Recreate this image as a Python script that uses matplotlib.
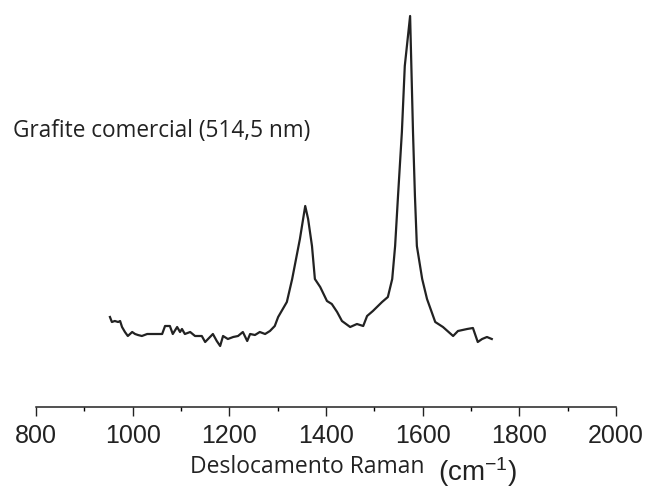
import matplotlib.pyplot as plt
from matplotlib.ticker import MultipleLocator

plt.rcParams['mathtext.fontset'] = 'custom'
plt.rcParams['mathtext.rm'] = 'Liberation Sans'
plt.rcParams['mathtext.it'] = 'Liberation Sans'

# Raman spectrum (arbitrary intensity)
shift = [953, 957, 963, 970, 974, 978, 984, 990, 999, 1005, 1011, 1019, 1030, 1061,
         1067, 1077, 1083, 1092, 1098, 1102, 1108, 1119, 1129, 1143, 1150, 1156, 1166,
         1174, 1181, 1187, 1197, 1208, 1218, 1228, 1237, 1243, 1253, 1263, 1274, 1284,
         1294, 1301, 1319, 1330, 1336, 1346, 1357, 1363, 1371, 1377, 1388, 1402, 1412,
         1423, 1433, 1450, 1464, 1477, 1485, 1497, 1516, 1528, 1537, 1543, 1549, 1557,
         1563, 1574, 1580, 1584, 1588, 1599, 1609, 1626, 1642, 1663, 1673, 1692, 1704,
         1714, 1723, 1733, 1743]
intensity = [90, 85, 86, 85, 86, 80, 75, 71, 75, 73, 72, 71, 73, 73,
             81, 81, 73, 80, 75, 78, 73, 75, 71, 71, 65, 68, 73,
             66, 61, 71, 68, 70, 71, 75, 66, 73, 72, 75, 73, 76,
             81, 90, 105, 128, 143, 168, 201, 188, 161, 128, 120, 106, 103,
             95, 86, 80, 83, 81, 91, 96, 105, 110, 128, 161, 211, 275,
             341, 391, 275, 211, 161, 128, 108, 85, 80, 71, 76, 78, 79,
             65, 68, 70, 68]

fig = plt.figure(figsize=(6.52, 4.89), dpi=100)
ax = fig.add_axes([36/652, 1-408/489, 580/652, 398/489])
ax.plot(shift, intensity, color='#222222', lw=1.6)

ax.set_xlim(800, 2000)
ax.set_ylim(0, 398)
ax.xaxis.set_major_locator(MultipleLocator(200))
ax.xaxis.set_minor_locator(MultipleLocator(100))
ax.tick_params(axis='x', which='major', length=6.5, width=1, pad=5,
               labelsize=18, colors='#222222')
ax.tick_params(axis='x', which='minor', length=3, width=1)
for lbl in ax.get_xticklabels():
    lbl.set_fontfamily('Liberation Sans')
ax.set_yticks([])
for s in ['left', 'right', 'top']:
    ax.spines[s].set_visible(False)
ax.spines['bottom'].set_linewidth(1.1)
ax.spines['bottom'].set_color('#222222')

fig.text(13/652, 1-137/489, 'Grafite comercial (514,5 nm)', family='Open Sans',
         fontsize=16.3, color='#222222', va='baseline')
fig.text(190/652, 1-473/489, 'Deslocamento Raman', family='Open Sans',
         fontsize=16.5, color='#222222', va='baseline')
fig.text(438/652, 1-481/489, r'(cm$^{-1}$)', family='Liberation Sans',
         fontsize=20, color='#222222', va='baseline')

plt.savefig('out.png')
